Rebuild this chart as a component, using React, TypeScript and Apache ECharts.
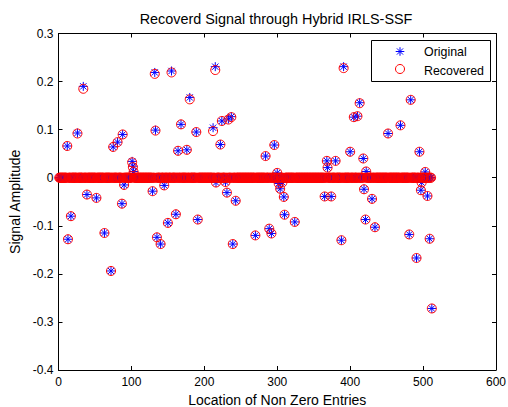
import React, { useEffect, useRef } from "react";
import * as echarts from "echarts";

// ---- data ----
const signalLength = 512;
const nonZeroIdx = [
  12, 13, 17, 26, 34, 39, 52, 63, 72, 75, 81, 87, 88, 90, 101, 102, 103, 129, 132, 133,
  135, 140, 145, 150, 155, 161, 164, 168, 176, 180, 189, 191, 212, 215, 216, 222, 224, 229, 231, 233,
  237, 239, 243, 270, 284, 289, 292, 296, 300, 302, 304, 307, 309, 310, 324, 365, 368, 369, 374, 380,
  388, 391, 400, 405, 410, 413, 418, 419, 421, 422, 430, 434, 452, 469, 481, 483, 491, 495, 497, 498,
  503, 506, 509, 512,
];
const originalVals = [
  0.066, -0.128, -0.08, 0.093, 0.19, -0.035, -0.042, -0.115, -0.194, 0.064, 0.074, -0.054, 0.09, -0.015, 0.034, 0.024, 0.013, -0.028, 0.219, 0.099,
  -0.124, -0.138, -0.016, -0.094, 0.222, -0.076, 0.056, 0.111, 0.058, 0.167, 0.095, -0.087, 0.104, 0.231, -0.01, 0.069, 0.118, -0.009, -0.031, 0.122,
  0.127, -0.138, -0.048, -0.12, 0.045, -0.106, -0.116, 0.068, 0.01, -0.012, -0.023, -0.01, -0.04, -0.077, -0.092, -0.039, 0.035, 0.021, -0.039, 0.035,
  -0.13, 0.231, 0.054, 0.126, 0.128, 0.156, 0.04, -0.024, -0.087, 0.013, -0.044, -0.103, 0.092, 0.109, -0.118, 0.162, -0.167, 0.054, -0.026, -0.01,
  0.012, -0.038, -0.127, -0.272,
];
const recoveredVals = [
  0.066, -0.128, -0.08, 0.092, 0.185, -0.035, -0.042, -0.115, -0.194, 0.064, 0.074, -0.054, 0.09, -0.015, 0.032, 0.022, 0.012, -0.028, 0.216, 0.098,
  -0.124, -0.138, -0.016, -0.094, 0.219, -0.076, 0.056, 0.111, 0.058, 0.163, 0.095, -0.087, 0.097, 0.224, -0.01, 0.069, 0.118, -0.009, -0.031, 0.121,
  0.126, -0.138, -0.048, -0.12, 0.045, -0.106, -0.116, 0.068, 0.01, -0.012, -0.023, -0.01, -0.04, -0.077, -0.092, -0.039, 0.035, 0.021, -0.039, 0.035,
  -0.13, 0.228, 0.054, 0.126, 0.128, 0.155, 0.04, -0.024, -0.087, 0.013, -0.044, -0.103, 0.092, 0.109, -0.118, 0.162, -0.167, 0.054, -0.026, -0.01,
  0.012, -0.038, -0.127, -0.272,
];
const xRange = [0, 600];
const xStep = 100;
const yRange = [-0.4, 0.3];
const yStep = 0.1;
const seriesNames = ["Original", "Recovered"];
const titleText = "Recoverd Signal through Hybrid IRLS-SSF";
const xName = "Location of Non Zero Entries";
const yName = "Signal Amplitude";

const FONT = "'Liberation Sans', Arial, Helvetica, sans-serif";
const STAR = "path://M0,-10L0,10M-10,0L10,0M-7,-7L7,7M-7,7L7,-7";
const BLUE = "#0000ff";
const RED = "#ff0000";

function buildSignal(vals: number[]) {
  const arr: number[] = new Array(signalLength).fill(0);
  nonZeroIdx.forEach((k, i) => {
    arr[k - 1] = vals[i];
  });
  return arr.map((v, i) => [i + 1, v]);
}

function starGlyph(cx: number, cy: number, r: number) {
  const d = r * 0.72;
  const seg = (x1: number, y1: number, x2: number, y2: number) => ({
    type: "line",
    z: 102,
    shape: { x1: cx + x1, y1: cy + y1, x2: cx + x2, y2: cy + y2 },
    style: { stroke: BLUE, lineWidth: 1 },
  });
  return [seg(0, -r, 0, r), seg(-r, 0, r, 0), seg(-d, -d, d, d), seg(-d, d, d, -d)];
}

export default function App() {
  const ref = useRef<HTMLDivElement>(null);
  useEffect(() => {
    if (!ref.current) return;
    const chart = echarts.init(ref.current, undefined, { renderer: "svg" });
    const axisLine = { show: true, onZero: false, lineStyle: { color: "#000", width: 1 } };
    const axisTick = { show: true, inside: true, length: 4, lineStyle: { color: "#000", width: 1 } };
    const labelStyle = { color: "#000", fontSize: 12, fontFamily: FONT };
    const nameStyle = { color: "#000", fontSize: 14, fontFamily: FONT };
    const legendText = (text: string, y: number) => ({
      type: "text",
      x: 424,
      y,
      z: 102,
      style: { text, fill: "#000", font: `12.4px ${FONT}`, textAlign: "left", textVerticalAlign: "middle" },
    });
    chart.setOption({
      animation: false,
      backgroundColor: "#fff",
      title: {
        text: titleText,
        left: 276,
        top: 11,
        textAlign: "center",
        padding: 0,
        textStyle: { color: "#000", fontSize: 14.4, fontWeight: "normal", fontFamily: FONT, lineHeight: 16 },
      },
      graphic: [
        {
          type: "rect",
          z: 100,
          shape: { x: 371.5, y: 40.5, width: 119, height: 41 },
          style: { fill: "#fff", stroke: "#000", lineWidth: 1 },
        },
        ...starGlyph(400, 51.5, 4.3),
        {
          type: "circle",
          z: 102,
          shape: { cx: 400, cy: 69, r: 4.5 },
          style: { fill: "none", stroke: RED, lineWidth: 1 },
        },
        legendText(seriesNames[0], 52),
        legendText(seriesNames[1], 70.5),
      ],
      grid: { left: 58.5, top: 33.5, width: 437.5, height: 336.5, show: false, outerBoundsMode: "none" },
      xAxis: [
        {
          type: "value", min: xRange[0], max: xRange[1], interval: xStep, position: "bottom",
          axisLine, axisTick, splitLine: { show: false },
          axisLabel: { ...labelStyle, margin: 6 },
          name: xName, nameLocation: "middle", nameGap: 22, nameTextStyle: nameStyle,
        },
        {
          type: "value", min: xRange[0], max: xRange[1], interval: xStep, position: "top",
          axisLine, axisTick, splitLine: { show: false }, axisLabel: { show: false },
        },
      ],
      yAxis: [
        {
          type: "value", min: yRange[0], max: yRange[1], interval: yStep, position: "left",
          axisLine, axisTick, splitLine: { show: false },
          axisLabel: { ...labelStyle, margin: 5 },
          name: yName, nameLocation: "middle", nameGap: 33, nameTextStyle: nameStyle,
        },
        {
          type: "value", min: yRange[0], max: yRange[1], interval: yStep, position: "right",
          axisLine, axisTick, splitLine: { show: false }, axisLabel: { show: false },
        },
      ],
      series: [
        {
          name: seriesNames[0],
          type: "scatter",
          xAxisIndex: 0,
          yAxisIndex: 0,
          symbol: STAR,
          symbolSize: 9,
          itemStyle: { color: "rgba(0,0,0,0)", borderColor: BLUE, borderWidth: 1, opacity: 1 },
          emphasis: { disabled: true },
          data: buildSignal(originalVals),
        },
        {
          name: seriesNames[1],
          type: "scatter",
          xAxisIndex: 0,
          yAxisIndex: 0,
          symbol: "circle",
          symbolSize: 9,
          itemStyle: { color: "rgba(0,0,0,0)", borderColor: RED, borderWidth: 1, opacity: 1 },
          emphasis: { disabled: true },
          data: buildSignal(recoveredVals),
        },
      ],
    });
    return () => chart.dispose();
  }, []);
  return <div ref={ref} style={{ position: "absolute", left: 0, top: 0, width: 508, height: 407 }} />;
}
